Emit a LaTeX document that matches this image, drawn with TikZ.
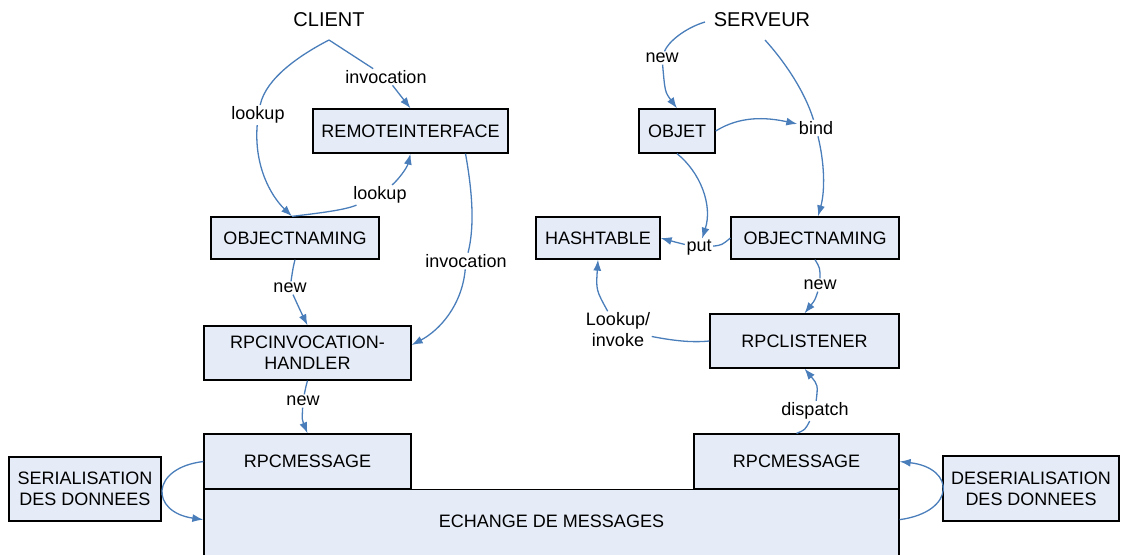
\documentclass[tikz,border=0pt]{standalone}
\usepackage{fontspec}
\setmainfont{Liberation Sans}
\usetikzlibrary{arrows.meta}
\definecolor{boxfill}{RGB}{230,236,247}
\definecolor{linkblue}{RGB}{74,126,187}

\begin{document}
\begin{tikzpicture}[x=1pt,y=-1pt,
  box/.style={draw=black,line width=1.3pt,fill=boxfill,inner sep=0pt,align=center,font=\fontsize{18}{21}\selectfont},
  lbl/.style={inner sep=1.5pt,font=\fontsize{18}{21}\selectfont},
  title/.style={inner sep=1pt,font=\fontsize{20}{23}\selectfont},
  link/.style={draw=linkblue,line width=1.3pt},
  arr/.style={link,-{Latex[length=11pt,width=8pt]}}]
\useasboundingbox (0,0) rectangle (1123,554);


\node[title] (c0) at (329,20) {CLIENT};
\coordinate (c0b) at (329,40);
\node[box,minimum width=195pt,minimum height=44pt] (c1) at (410.5,131) {REMOTEINTERFACE};
\node[box,minimum width=168pt,minimum height=42pt] (c2) at (295,238) {OBJECTNAMING};
\node[box,minimum width=207pt,minimum height=54pt] (c3) at (307.5,353) {RPCINVOCATION-\\HANDLER};
\node[box,minimum width=207pt,minimum height=55pt] (c4) at (307.5,461.5) {RPCMESSAGE};
\node[box,minimum width=152pt,minimum height=64pt] (c6) at (85,489) {SERIALISATION\\DES DONNEES};

\node[box,minimum width=695pt,minimum height=70pt,text depth=6pt,anchor=north] (m0) at (551.5,489) {ECHANGE DE MESSAGES};

\node[title] (s0) at (762,20) {SERVEUR};
\coordinate (s0b) at (765,40);
\coordinate (s0w) at (705,22);
\node[box,minimum width=76pt,minimum height=44pt] (s1) at (677,131) {OBJET};
\node[box,minimum width=124pt,minimum height=42pt] (s2) at (598,238) {HASHTABLE};
\node[box,minimum width=168pt,minimum height=42pt] (s3) at (815,238) {OBJECTNAMING};
\node[box,minimum width=189pt,minimum height=54pt] (s4) at (804.5,341) {RPCLISTENER};
\node[box,minimum width=205pt,minimum height=55pt] (s5) at (796.5,461.5) {RPCMESSAGE};
\node[box,minimum width=176pt,minimum height=65pt] (s6) at (1031,488.5) {DESERIALISATION\\DES DONNEES};


\node[lbl] (l1) at (386,77) {invocation};
\node[lbl] (l2) at (258,115) {lookup};
\node[lbl] (l3) at (380,195) {lookup};
\node[lbl] (l4) at (466,261) {invocation};
\node[lbl] (l5) at (290,288) {new};
\node[lbl] (l6) at (303,401) {new};
\node[lbl] (l7) at (662,58) {new};
\node[lbl] (l8) at (816,128) {bind};
\node[lbl] (l9) at (699,248) {put};
\node[lbl] (l10) at (820,285) {new};
\node[lbl,align=center] (l11) at (618,330) {Lookup/\\invoke};
\node[lbl] (l12) at (815,411) {dispatch};


\draw[link] (c0b) -- (l1);
\draw[arr] (l1) -- (c1.north);
\draw[link] (c0b) .. controls (300,55) and (266,78) .. (l2);
\draw[arr] (l2) .. controls (254,165) and (270,195) .. ([xshift=-3pt]c2.north);
\draw[link] ([xshift=-3pt]c2.north) .. controls (320,213) and (345,210) .. (l3);
\draw[arr] (l3) .. controls (398,180) and (407,168) .. (c1.south);
\draw[link] ([xshift=55pt]c1.south) .. controls (472,190) and (475,225) .. (l4);
\draw[arr] (l4) .. controls (462,305) and (440,330) .. ([yshift=8pt]c3.east);
\draw[link] (c2.south) .. controls (293,268) .. (l5);
\draw[arr] (l5) .. controls (300,310) .. (c3.north);
\draw[link] (c3.south) .. controls (306,386) .. (l6);
\draw[arr] (l6) .. controls (302,420) .. (c4.north);
\draw[arr] (c4.west) .. controls (150,468) and (150,512) .. ([yshift=5pt]m0.west);

\draw[arr] ([yshift=5pt]m0.east) .. controls (956,512) and (956,468) .. (s5.east);
\draw[link] (s5.north) .. controls (805,430) .. (l12);
\draw[arr] (l12) .. controls (818,385) .. (s4.south);
\draw[link] (s4.west) .. controls (690,343) and (670,340) .. (l11);
\draw[arr] (l11) .. controls (596,290) .. (s2.south);
\draw[link] (s3.south) .. controls (820,268) .. (l10);
\draw[arr] (l10) .. controls (815,300) .. (s4.north);
\draw[link] (s3.west) .. controls (722,245) .. (l9);
\draw[arr] (l9) .. controls (675,242) .. (s2.east);
\draw[arr] (s1.south) .. controls (700,172) and (713,205) .. (l9);
\draw[link] (s0w) .. controls (685,28) and (668,42) .. (l7);
\draw[arr] (l7) .. controls (665,92) .. (s1.north);
\draw[link] (s0b) .. controls (785,62) and (805,92) .. (l8);
\draw[arr] (l8) .. controls (826,170) and (824,195) .. ([xshift=3pt]s3.north);
\draw[arr] (s1.east) .. controls (740,116) and (765,117) .. (l8);
\end{tikzpicture}
\end{document}
